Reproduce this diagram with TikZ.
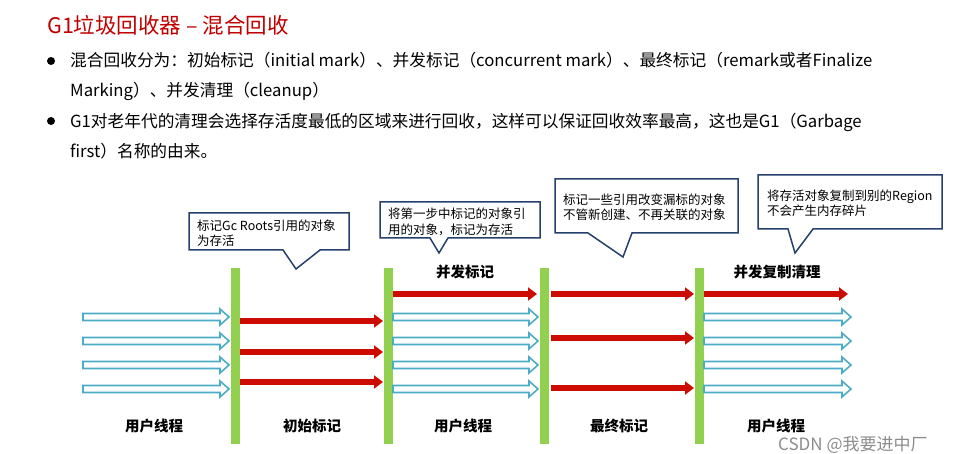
\documentclass[tikz,border=0pt]{standalone}
\usepackage{fontspec}
\setmainfont{Noto Sans CJK SC}
\usetikzlibrary{arrows.meta}

\definecolor{titleRed}{RGB}{192,0,0}
\definecolor{flowRed}{RGB}{204,12,0}
\definecolor{flowBlue}{RGB}{75,172,198}
\definecolor{barGreen}{RGB}{146,208,80}
\definecolor{calloutBlue}{RGB}{38,64,110}

\newcommand\hollowarrow[3]{%
  \draw[blueflow] (#1,#3-3.5) -- (#2-9,#3-3.5) -- (#2-9,#3-8) -- (#2,#3)
    -- (#2-9,#3+8) -- (#2-9,#3+3.5) -- (#1,#3+3.5) -- cycle;}

\tikzset{
  bar/.style={fill=barGreen, minimum width=9pt, minimum height=176pt, inner sep=0pt},
  redflow/.style={draw=flowRed, line width=6pt, -{Triangle[length=9pt,width=13pt]}},
  blueflow/.style={draw=flowBlue, line width=1.6pt, fill=white, line join=miter},
  callout/.style={draw=calloutBlue, line width=1.5pt, fill=white, line join=miter},
  tiptext/.style={font=\fontsize{12.5}{15}\selectfont, anchor=base west, inner sep=0pt},
  phase/.style={font=\fontsize{14.5}{17}\selectfont\bfseries, inner sep=0pt},
  bullettext/.style={font=\fontsize{16.7}{19}\selectfont, anchor=base west, inner sep=0pt}
}

\begin{document}
\begin{tikzpicture}[x=1pt,y=-1pt]
  \useasboundingbox (0,0) rectangle (958,454);

  \node[anchor=base west, inner sep=0pt, text=titleRed,
        font=\fontsize{21.5}{24}\selectfont] (title) at (47,34) {G1垃圾回收器 – 混合回收};

  \fill (51,61) circle (4);
  \fill (51,121) circle (4);
  \node[bullettext] (line1) at (70,67) {混合回收分为：初始标记（initial mark）、并发标记（concurrent mark）、最终标记（remark或者Finalize};
  \node[bullettext] (line2) at (70,97) {Marking）、并发清理（cleanup）};
  \node[bullettext] (line3) at (70,128) {G1对老年代的清理会选择存活度最低的区域来进行回收，这样可以保证回收效率最高，这也是G1（Garbage};
  \node[bullettext] (line4) at (70,158) {first）名称的由来。};

  \draw[callout] (189,213) -- (349,213) -- (349,250) -- (320,250) -- (296,269)
    -- (283,250) -- (189,250) -- cycle;
  \node[tiptext] (tip1a) at (197,230.5) {标记Gc Roots引用的对象};
  \node[tiptext] (tip1b) at (197,245.5) {为存活};

  \draw[callout] (380,202) -- (540,202) -- (540,238) -- (448,238) -- (439,253)
    -- (430,238) -- (380,238) -- cycle;
  \node[tiptext] (tip2a) at (388,218.5) {将第一步中标记的对象引};
  \node[tiptext] (tip2b) at (388,235) {用的对象，标记为存活};

  \draw[callout] (555,179) -- (738,179) -- (738,233) -- (632,233) -- (623,257)
    -- (588,233) -- (555,233) -- cycle;
  \node[tiptext] (tip3a) at (563,205) {标记一些引用改变漏标的对象};
  \node[tiptext] (tip3b) at (563,220) {不管新创建、不再关联的对象};

  \draw[callout] (758,175) -- (942,175) -- (942,229) -- (813,229) -- (795,253)
    -- (788,229) -- (758,229) -- cycle;
  \node[tiptext] (tip4a) at (767,200.5) {将存活对象复制到别的Region};
  \node[tiptext] (tip4b) at (767,215.5) {不会产生内存碎片};

  \node[bar] (b1) at (235.5,356) {};
  \node[bar] (b2) at (388.5,356) {};
  \node[bar] (b3) at (544,356) {};
  \node[bar] (b4) at (699.5,356) {};

  \foreach \y in {317,341,365,389} {
    \hollowarrow{83}{229}{\y}
    \hollowarrow{393}{538}{\y}
    \hollowarrow{704}{851}{\y}
  }
  \foreach \y in {321,352,382}
    \draw[redflow] (b1.east |- 0,\y) -- (383,\y);
  \draw[redflow] (b2.east |- 0,294) -- (537,294);
  \foreach \y in {294,338,388}
    \draw[redflow] (551,\y) -- (694,\y);
  \draw[redflow] (b4.east |- 0,294) -- (848,294);

  \node[phase] (conc) at (465,272) {并发标记};
  \node[phase] (copy) at (777,272) {并发复制清理};
  \node[phase] (user1) at (154,426) {用户线程};
  \node[phase] (init) at (312,426) {初始标记};
  \node[phase] (user2) at (463,426) {用户线程};
  \node[phase] (remark) at (619,426) {最终标记};
  \node[phase] (user3) at (776,426) {用户线程};

  \node[anchor=base west, inner sep=0pt, text=black!45,
        font=\fontsize{17}{20}\selectfont] (mark) at (778,450) {CSDN @我要进中厂};
\end{tikzpicture}
\end{document}
